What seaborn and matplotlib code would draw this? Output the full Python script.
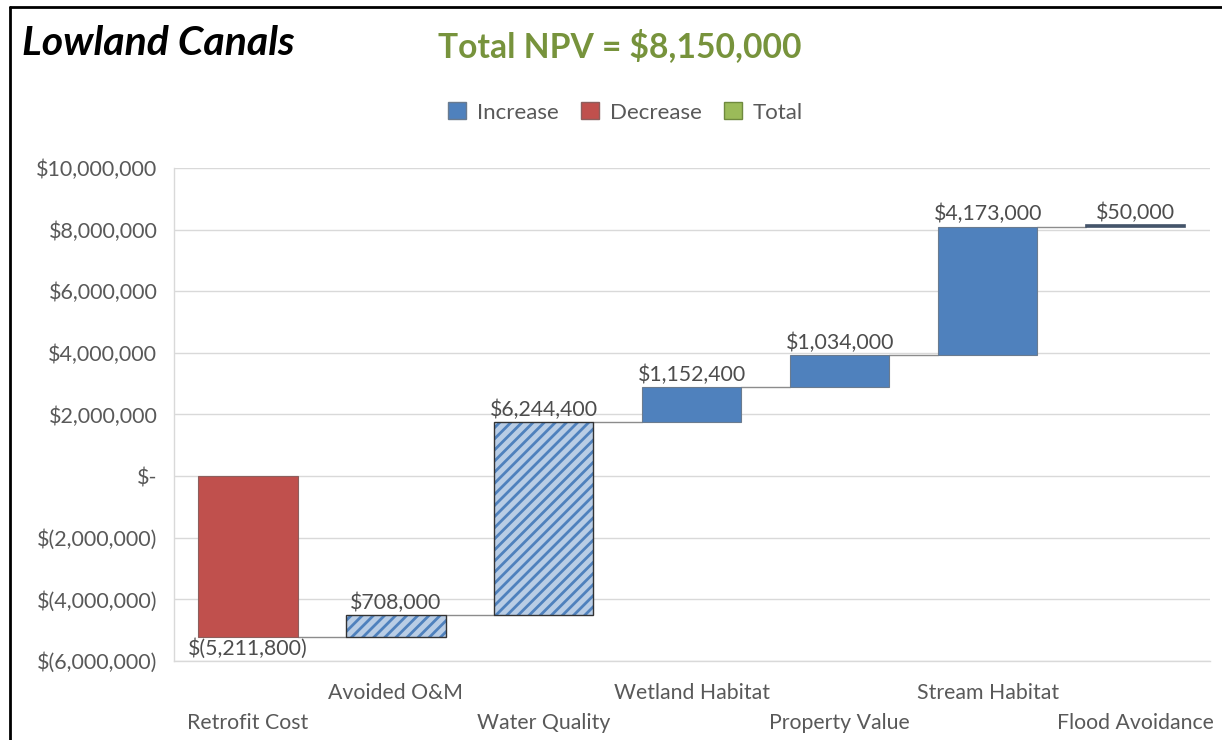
import numpy as np
import pandas as pd
import matplotlib
matplotlib.use("Agg")
import matplotlib.pyplot as plt
import seaborn as sns
from matplotlib.lines import Line2D
from matplotlib.patches import Patch, Rectangle
from matplotlib.ticker import FuncFormatter, MultipleLocator

sns.set_style("white")
plt.rcParams['font.family'] = ['Lato', 'DejaVu Sans']
plt.rcParams['hatch.linewidth'] = 2.0

# ------------------------------
# Data
# ------------------------------
categories = [
    "Retrofit Cost",
    "Avoided O&M",
    "Water Quality",
    "Wetland Habitat",
    "Property Value",
    "Stream Habitat",
    "Flood Avoidance",
]
values = [-5211800, 708000, 6244400, 1152400, 1034000, 4173000, 50000]
hatched_items = ["Avoided O&M", "Water Quality"]
total_npv = 8150000
y_ticks = [-6000000, 10000000, 2000000]  # min, max, step

df = pd.DataFrame({"Item": categories, "Value": values})
df["Top"] = df["Value"].cumsum()
df["Bottom"] = df["Top"] - df["Value"]

INC = "#4F81BD"
DEC = "#C0504D"
TOT = "#9BBB59"
HATCH_FACE = "#B9CDE5"
GRID = "#D9D9D9"
TICK = "#595959"


def money(v):
    if v == 0:
        return "$-"
    if v < 0:
        return f"$({abs(v):,.0f})"
    return f"${v:,.0f}"


# ------------------------------
# Figure
# ------------------------------
fig = plt.figure(figsize=(12.22, 7.40), dpi=100)
ax = fig.add_axes([0.1424, 0.1068, 0.8476, 0.6662])

sns.barplot(
    data=df,
    x="Item",
    y="Value",
    bottom=df["Bottom"].values,
    width=0.67,
    errorbar=None,
    color=INC,
    ax=ax,
    zorder=3,
)

for patch, (_, row) in zip(ax.patches, df.iterrows()):
    if row["Item"] in hatched_items:
        patch.set_facecolor(HATCH_FACE)
        patch.set_edgecolor(INC)
        patch.set_hatch("///")
        patch.set_linewidth(0)
        ax.add_patch(Rectangle(patch.get_xy(), patch.get_width(), patch.get_height(),
                               fill=False, edgecolor="#333333", linewidth=1.0, zorder=4))
    elif row["Value"] < 0:
        patch.set_facecolor(DEC)
        patch.set_edgecolor("#8C5F5D")
        patch.set_linewidth(0.8)
    elif row["Item"] == categories[-1]:
        patch.set_facecolor("#44546A")
        patch.set_edgecolor("#44546A")
        patch.set_linewidth(1.2)
    else:
        patch.set_facecolor(INC)
        patch.set_edgecolor("#6A7B8F")
        patch.set_linewidth(0.8)

# connector lines between bars
bars = list(ax.patches[:len(categories)])
for i in range(len(categories) - 1):
    level = df["Top"].iloc[i]
    x0 = bars[i].get_x() + bars[i].get_width()
    x1 = bars[i + 1].get_x()
    ax.plot([x0, x1], [level, level], color="#8C8C8C", linewidth=1.0, zorder=2)

# data labels
for bar, (_, row) in zip(bars, df.iterrows()):
    xc = bar.get_x() + bar.get_width() / 2
    if row["Value"] < 0:
        ax.annotate(money(row["Value"]), (xc, row["Top"]), xytext=(0, -1),
                    textcoords="offset points", ha="center", va="top",
                    fontsize=15.3, color="#4D4D4D")
    else:
        ax.annotate(money(row["Value"]), (xc, row["Top"]), xytext=(0, 1.5),
                    textcoords="offset points", ha="center", va="bottom",
                    fontsize=15.3, color="#4D4D4D")

# axes styling
ax.set_xlim(-0.5, len(categories) - 0.5)
ax.set_ylim(y_ticks[0], y_ticks[1])
ax.yaxis.set_major_locator(MultipleLocator(y_ticks[2]))
ax.yaxis.set_major_formatter(FuncFormatter(lambda v, p: money(v)))
ax.grid(True, axis="y", color=GRID, linewidth=1.0, zorder=0)
ax.set_axisbelow(True)
ax.set_xlabel("")
ax.set_ylabel("")
for side in ["top", "right"]:
    ax.spines[side].set_visible(False)
for side in ["left", "bottom"]:
    ax.spines[side].set_color(GRID)
    ax.spines[side].set_linewidth(1.0)

staggered = [("\n" + c) if i % 2 == 0 else c for i, c in enumerate(categories)]
ax.set_xticks(range(len(categories)))
ax.set_xticklabels(staggered, linespacing=1.6)
ax.tick_params(axis="x", length=0, pad=16, labelsize=15.3, labelcolor=TICK)
ax.tick_params(axis="y", length=0, pad=12, labelsize=15.5, labelcolor=TICK)

# legend
handles = [
    Patch(facecolor=INC, edgecolor="#6A7B8F", label="Increase"),
    Patch(facecolor=DEC, edgecolor="#8C5F5D", label="Decrease"),
    Patch(facecolor=TOT, edgecolor="#6F8A3E", label="Total"),
]
fig.legend(handles=handles, loc="center", bbox_to_anchor=(0.512, 0.848), ncol=3,
           frameon=False, fontsize=16, handlelength=0.8, handleheight=0.8,
           handletextpad=0.5, columnspacing=1.0, labelcolor=TICK)

# titles
fig.text(0.018, 0.941, "Lowland Canals", fontsize=29.5, fontweight="bold",
         fontstyle="italic", color="black", ha="left", va="center")
fig.text(0.507, 0.938, f"Total NPV = {money(total_npv)}", fontsize=24.2,
         fontweight="bold", color="#77933C", ha="center", va="center")

# outer frame (top and left edges visible)
fig.add_artist(Line2D([0.0082, 1.0], [0.9905, 0.9905], color="black", linewidth=2,
                      transform=fig.transFigure))
fig.add_artist(Line2D([0.0082, 0.0082], [0.0, 0.9905], color="black", linewidth=2,
                      transform=fig.transFigure))

fig.savefig("out.png", dpi=100)
